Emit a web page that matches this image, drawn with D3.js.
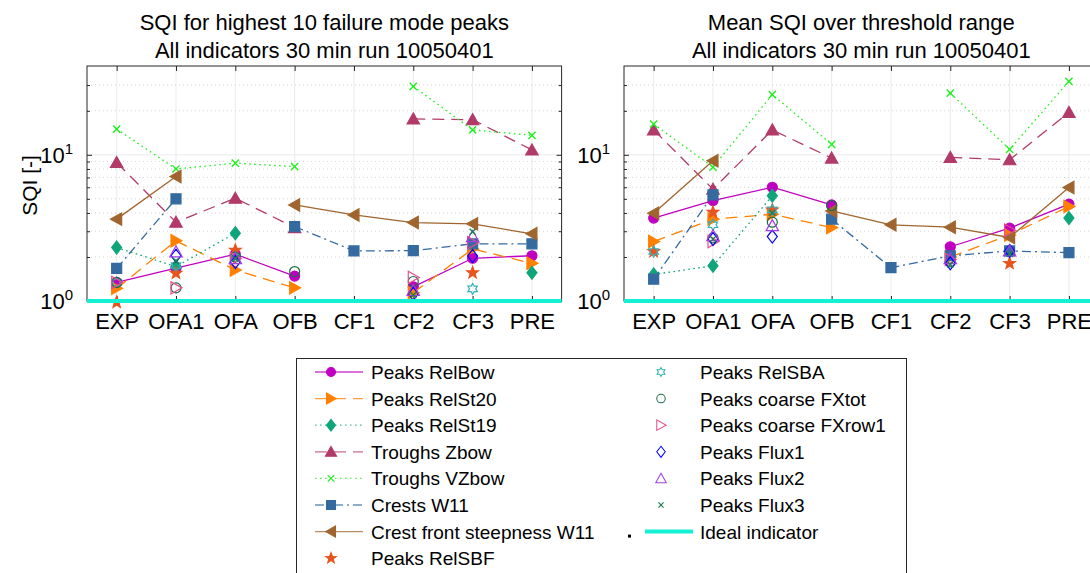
<!DOCTYPE html>
<html>
<head>
<meta charset="utf-8">
<script src="https://cdn.jsdelivr.net/npm/d3@7"></script>
<style>
  body { margin: 0; background: #fff; }
  svg { display: block; }
  text { font-family: "Liberation Sans", Arial, Helvetica, sans-serif; fill: #000; }
</style>
</head>
<body>
<svg id="chart" width="1090" height="573"></svg>
<script>
// ---- data ---------------------------------------------------------------
const categories = ["EXP", "OFA1", "OFA", "OFB", "CF1", "CF2", "CF3", "PRE"];
const majorTicks = [1, 10];
const minorTicks = [2, 3, 4, 5, 6, 7, 8, 9, 20, 30];
const idealLevel = 1;

// SQI for the highest 10 failure mode peaks
const peakRelBow    = [1.34, 1.68, 2.09, 1.48, NaN, 1.25, 1.96, 2.04];
const peakRelSt20   = [1.22, 2.58, 1.63, 1.23, NaN, 1.14, 2.27, 1.81];
const peakRelSt19   = [2.32, 1.72, 2.91, NaN, NaN, NaN, NaN, 1.56];
const peakZbow      = [8.86, 3.46, 5.05, 3.18, NaN, 17.6, 17.4, 10.8];
const peakVZbow     = [15.0, 8.0, 8.77, 8.3, NaN, 29.4, 14.8, 13.6];
const peakCrestsW11 = [1.67, 5.0, NaN, 3.23, 2.2, 2.21, 2.46, 2.46];
const peakSteepW11  = [3.63, 7.1, NaN, 4.54, 3.88, 3.44, 3.37, 2.88];
const peakRelSBF    = [0.98, 1.55, 2.23, NaN, NaN, NaN, 1.56, NaN];
const peakRelSBA    = [1.34, 1.75, 2.0, NaN, NaN, NaN, 1.21, NaN];
const peakFXtot     = [1.34, 1.23, 2.0, 1.59, NaN, 1.36, NaN, NaN];
const peakFXrow1    = [1.34, 1.23, 1.95, NaN, NaN, 1.45, 2.5, NaN];
const peakFlux1     = [NaN, 2.04, 1.85, NaN, NaN, 1.12, 2.03, NaN];
const peakFlux2     = [NaN, 2.17, 1.95, NaN, NaN, 1.18, 2.76, NaN];
const peakFlux3     = [NaN, 1.88, 1.95, NaN, NaN, 1.1, 2.98, NaN];

// mean SQI over the threshold range
const meanRelBow    = [3.69, 4.86, 6.0, 4.54, NaN, 2.35, 3.15, 4.6];
const meanRelSt20   = [2.55, 3.63, 3.92, 3.18, NaN, 2.0, 2.83, 4.43];
const meanRelSt19   = [1.52, 1.74, 5.24, NaN, NaN, NaN, NaN, 3.69];
const meanZbow      = [14.8, 5.82, 14.8, 9.5, NaN, 9.6, 9.25, 19.5];
const meanVZbow     = [16.2, 8.24, 25.8, 11.8, NaN, 26.4, 10.9, 31.8];
const meanCrestsW11 = [1.41, 5.32, NaN, 3.63, 1.69, 2.04, 2.2, 2.14];
const meanSteepW11  = [3.98, 9.1, NaN, 4.13, 3.32, 3.2, 2.72, 5.97];
const meanRelSBF    = [2.18, 4.05, 4.2, NaN, NaN, NaN, 1.81, NaN];
const meanRelSBA    = [2.18, 3.32, 4.2, NaN, NaN, NaN, NaN, NaN];
const meanFXtot     = [NaN, 2.7, 3.46, 4.5, NaN, 1.85, NaN, NaN];
const meanFXrow1    = [NaN, 2.55, NaN, NaN, NaN, 1.92, 3.05, NaN];
const meanFlux1     = [NaN, 2.65, 2.76, NaN, NaN, 1.81, 2.2, NaN];
const meanFlux2     = [NaN, 2.8, 3.28, NaN, NaN, 1.95, 2.2, NaN];
const meanFlux3     = [NaN, 2.65, 4.0, NaN, NaN, 1.78, 2.1, NaN];

// ---- series styling -------------------------------------------------------
const series = [
  { name: "Peaks RelBow",  color: "#c000c0", dash: null,        line: true,  marker: "circle",   filled: true,  peak: peakRelBow,    mean: meanRelBow },
  { name: "Peaks RelSt20", color: "#ff8000", dash: "12,7",      line: true,  marker: "triRight", filled: true,  peak: peakRelSt20,   mean: meanRelSt20 },
  { name: "Peaks RelSt19", color: "#0fa57a", dash: "1.6,3.4",   line: true,  marker: "diamond",  filled: true,  peak: peakRelSt19,   mean: meanRelSt19 },
  { name: "Troughs Zbow",  color: "#b23a68", dash: "12,7",      line: true,  marker: "triUp",    filled: true,  peak: peakZbow,      mean: meanZbow },
  { name: "Troughs VZbow", color: "#1ef01e", dash: "1.6,3.4",   line: true,  marker: "cross",    filled: false, peak: peakVZbow,     mean: meanVZbow },
  { name: "Crests W11",    color: "#356aa0", dash: "9,4,2,4",   line: true,  marker: "square",   filled: true,  peak: peakCrestsW11, mean: meanCrestsW11 },
  { name: "Crest front steepness W11", color: "#a0652e", dash: null, line: true, marker: "triLeft", filled: true, peak: peakSteepW11, mean: meanSteepW11 },
  { name: "Peaks RelSBF",  color: "#e8541e", dash: null,        line: false, marker: "pentagram", filled: true, peak: peakRelSBF,    mean: meanRelSBF },
  { name: "Peaks RelSBA",  color: "#33b1b8", dash: null,        line: false, marker: "hexagram", filled: false, peak: peakRelSBA,    mean: meanRelSBA },
  { name: "Peaks coarse FXtot",  color: "#1c6b48", dash: null,  line: false, marker: "circle",   filled: false, peak: peakFXtot,     mean: meanFXtot },
  { name: "Peaks coarse FXrow1", color: "#e6508c", dash: null,  line: false, marker: "triRight", filled: false, peak: peakFXrow1,    mean: meanFXrow1 },
  { name: "Peaks Flux1",   color: "#0000ff", dash: null,        line: false, marker: "diamond",  filled: false, peak: peakFlux1,     mean: meanFlux1 },
  { name: "Peaks Flux2",   color: "#a33ee0", dash: null,        line: false, marker: "triUp",    filled: false, peak: peakFlux2,     mean: meanFlux2 },
  { name: "Peaks Flux3",   color: "#1b7f50", dash: null,        line: false, marker: "smallCross", filled: false, peak: peakFlux3,   mean: meanFlux3 }
];
const idealColor = "#14f0d2";

// ---- marker shapes --------------------------------------------------------
function markerPath(kind) {
  const p = d3.path();
  const poly = pts => { p.moveTo(pts[0][0], pts[0][1]); pts.slice(1).forEach(q => p.lineTo(q[0], q[1])); p.closePath(); };
  switch (kind) {
    case "circle": p.arc(0, 0, 5, 0, 2 * Math.PI); p.closePath(); break;
    case "triUp": poly([[0, -6], [6.2, 5], [-6.2, 5]]); break;
    case "triRight": poly([[6, 0], [-5, -6.2], [-5, 6.2]]); break;
    case "triLeft": poly([[-6, 0], [5, -6.2], [5, 6.2]]); break;
    case "square": poly([[-5, -5], [5, -5], [5, 5], [-5, 5]]); break;
    case "diamond": poly([[0, -6.5], [5, 0], [0, 6.5], [-5, 0]]); break;
    case "cross": p.moveTo(-3.6, -3.6); p.lineTo(3.6, 3.6); p.moveTo(3.6, -3.6); p.lineTo(-3.6, 3.6); break;
    case "smallCross": p.moveTo(-3, -3); p.lineTo(3, 3); p.moveTo(3, -3); p.lineTo(-3, 3); break;
    case "pentagram": {
      const pts = [];
      for (let i = 0; i < 10; i++) {
        const r = i % 2 === 0 ? 6.2 : 2.6, a = -Math.PI / 2 + i * Math.PI / 5;
        pts.push([r * Math.cos(a), r * Math.sin(a)]);
      }
      poly(pts); break;
    }
    case "hexagram": {
      const pts = [];
      for (let i = 0; i < 12; i++) {
        const r = i % 2 === 0 ? 5.4 : 3.1, a = -Math.PI / 2 + i * Math.PI / 6;
        pts.push([r * Math.cos(a), r * Math.sin(a)]);
      }
      poly(pts); break;
    }
  }
  return p.toString();
}

function drawMarker(g, s, x, y, scale = 1) {
  const isStroke = s.marker === "cross" || s.marker === "smallCross";
  g.append("path")
    .attr("d", markerPath(s.marker))
    .attr("transform", `translate(${x},${y}) scale(${scale})`)
    .attr("fill", s.filled ? s.color : "none")
    .attr("stroke", s.color)
    .attr("stroke-width", isStroke ? 1.4 : 1.2)
    .attr("stroke-linejoin", "miter");
}

// ---- panels -------------------------------------------------------------------
const svg = d3.select("#chart");
const panelW = 474.6, panelTop = 66, panelBottom = 301;
const panels = [
  { x0: 87,  key: "peak", title: ["SQI for highest 10 failure mode peaks", "All indicators 30 min run 10050401"], ylabel: true },
  { x0: 624, key: "mean", title: ["Mean SQI over threshold range", "All indicators 30 min run 10050401"], ylabel: false }
];

panels.forEach(pn => {
  const x = d3.scalePoint().domain(categories).range([pn.x0, pn.x0 + panelW]).padding(0.5);
  const y = d3.scaleLog().domain([1, 40.5]).range([panelBottom, panelTop]);
  const g = svg.append("g");

  // grid: category lines, decade line and dotted minor lines
  g.append("g").selectAll("line").data(categories).join("line")
    .attr("x1", d => x(d)).attr("x2", d => x(d))
    .attr("y1", panelTop).attr("y2", panelBottom)
    .attr("stroke", "#ebebeb").attr("stroke-width", 1);
  g.append("g").selectAll("line").data(minorTicks).join("line")
    .attr("x1", pn.x0).attr("x2", pn.x0 + panelW)
    .attr("y1", d => y(d)).attr("y2", d => y(d))
    .attr("stroke", "#d6d6d6").attr("stroke-width", 1).attr("stroke-dasharray", "1,3");
  g.append("line")
    .attr("x1", pn.x0).attr("x2", pn.x0 + panelW)
    .attr("y1", y(10)).attr("y2", y(10))
    .attr("stroke", "#ececec").attr("stroke-width", 1);

  // axes (ticks pointing inward, mirrored on all four sides)
  const axisColor = "#262626";
  const styleAxis = sel => { sel.select(".domain").remove(); sel.selectAll("line").attr("stroke", axisColor); };

  g.append("g").attr("transform", `translate(0,${panelBottom})`)
    .call(d3.axisBottom(x).tickSizeInner(-5).tickSizeOuter(0).tickPadding(12))
    .call(styleAxis)
    .call(a => a.selectAll("text").attr("font-size", 22).attr("fill", "#000")
      .attr("font-family", '"Liberation Sans", Arial, sans-serif'));
  g.append("g").attr("transform", `translate(0,${panelTop})`)
    .call(d3.axisTop(x).tickSizeInner(-5).tickSizeOuter(0).tickFormat(""))
    .call(styleAxis);

  [[d3.axisLeft, pn.x0], [d3.axisRight, pn.x0 + panelW]].forEach(([axisFn, xpos]) => {
    g.append("g").attr("transform", `translate(${xpos},0)`)
      .call(axisFn(y).tickValues(majorTicks).tickSizeInner(-5).tickSizeOuter(0).tickFormat(""))
      .call(styleAxis);
    g.append("g").attr("transform", `translate(${xpos},0)`)
      .call(axisFn(y).tickValues(minorTicks).tickSizeInner(-3).tickSizeOuter(0).tickFormat(""))
      .call(styleAxis);
  });

  // decade labels as 10 with a superscript exponent
  majorTicks.forEach(v => {
    const t = g.append("text")
      .attr("x", pn.x0 - 14).attr("y", y(v) + 8)
      .attr("text-anchor", "end").attr("font-size", 22);
    t.append("tspan").text("10");
    t.append("tspan").attr("dy", -9).attr("font-size", 15).text(Math.round(Math.log10(v)));
  });

  // box
  g.append("rect")
    .attr("x", pn.x0).attr("y", panelTop).attr("width", panelW).attr("height", panelBottom - panelTop)
    .attr("fill", "none").attr("stroke", axisColor).attr("stroke-width", 1);

  // titles
  pn.title.forEach((line, i) => {
    g.append("text")
      .attr("x", pn.x0 + panelW / 2).attr("y", 30 + i * 28)
      .attr("text-anchor", "middle").attr("font-size", 22).text(line);
  });
  if (pn.ylabel) {
    g.append("text")
      .attr("transform", `translate(37,${(panelTop + panelBottom) / 2 + 2}) rotate(-90)`)
      .attr("text-anchor", "middle").attr("font-size", 21).text("SQI [-]");
  }

  // series: line then markers, later series on top
  series.forEach(s => {
    const vals = s[pn.key];
    const pts = categories.map((c, i) => ({ c, v: vals[i] }));
    if (s.line) {
      const ln = d3.line().defined(d => !isNaN(d.v)).x(d => x(d.c)).y(d => y(d.v));
      g.append("path").attr("d", ln(pts))
        .attr("fill", "none").attr("stroke", s.color).attr("stroke-width", 1.3)
        .attr("stroke-dasharray", s.dash);
    }
    pts.filter(d => !isNaN(d.v)).forEach(d => drawMarker(g, s, x(d.c), y(d.v)));
  });

  // ideal indicator level
  g.append("line")
    .attr("x1", pn.x0).attr("x2", pn.x0 + panelW)
    .attr("y1", y(idealLevel)).attr("y2", y(idealLevel))
    .attr("stroke", idealColor).attr("stroke-width", 4);
});

// ---- legend -------------------------------------------------------------------
const lg = svg.append("g");
lg.append("rect").attr("x", 296.5).attr("y", 358.5).attr("width", 610).attr("height", 260)
  .attr("fill", "#fff").attr("stroke", "#262626").attr("stroke-width", 1);
const rowY = i => 372 + i * 26.6;
const cols = [{ lx0: 315, lx1: 363, mx: 331, tx: 371 }, { lx0: 645, lx1: 693, mx: 661, tx: 700 }];

series.forEach((s, i) => {
  const col = i < 8 ? cols[0] : cols[1];
  const r = i < 8 ? i : i - 8;
  const yy = rowY(r);
  if (s.line) {
    lg.append("line").attr("x1", col.lx0).attr("x2", col.lx1).attr("y1", yy).attr("y2", yy)
      .attr("stroke", s.color).attr("stroke-width", 1.3).attr("stroke-dasharray", s.dash)
      .attr("stroke-opacity", 0.75);
  }
  drawMarker(lg, s, col.mx, yy, i < 8 ? 0.9 : 0.85);
  lg.append("text").attr("x", col.tx).attr("y", yy + 7).attr("font-size", 19).text(s.name);
});

// ideal indicator entry and point-marker entry
const yIdeal = rowY(6);
lg.append("rect").attr("x", 628).attr("y", yIdeal + 3).attr("width", 3).attr("height", 3).attr("fill", "#000");
lg.append("line").attr("x1", cols[1].lx0).attr("x2", cols[1].lx1).attr("y1", yIdeal).attr("y2", yIdeal)
  .attr("stroke", idealColor).attr("stroke-width", 4);
lg.append("text").attr("x", cols[1].tx).attr("y", yIdeal + 7).attr("font-size", 19).text("Ideal indicator");
</script>
</body>
</html>
